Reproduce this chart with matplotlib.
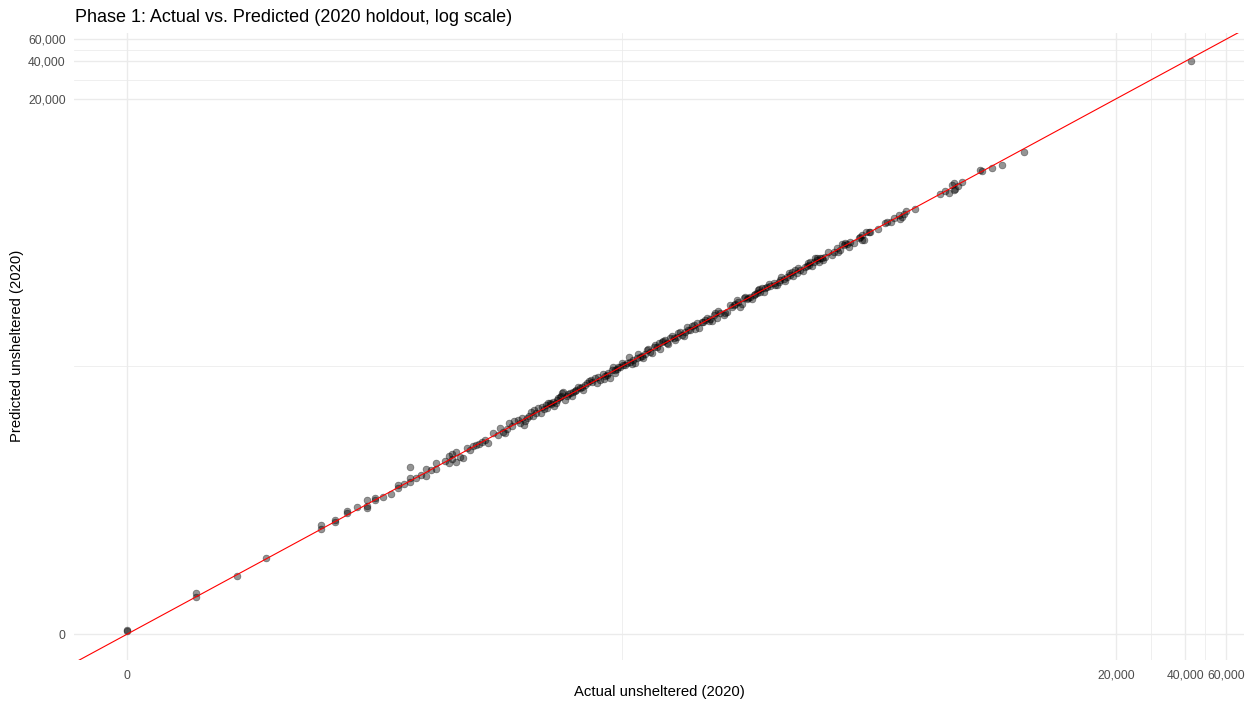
import numpy as np
import matplotlib
matplotlib.use("Agg")
import matplotlib.pyplot as plt
from matplotlib.ticker import FixedLocator, FuncFormatter

plt.rcParams["font.family"] = ["Liberation Sans", "DejaVu Sans"]

# Actual vs. predicted unsheltered counts for the 2020 holdout
actual = [
    0, 0, 1, 1, 2, 3, 6, 6, 7, 7, 8, 8, 9, 10, 10, 10,
    11, 11, 12, 13, 14, 14, 15, 16, 16, 16, 17, 18, 19, 19, 20, 21, 21, 23, 24, 24,
    25, 25, 26, 26, 27, 28, 29, 30, 31, 32, 33, 34, 35, 36, 40, 41, 42, 44, 45, 46,
    49, 50, 52, 54, 55,
    56, 58, 57, 60, 63, 65, 66, 68, 70, 73, 74, 75, 77, 78, 81, 83, 86, 89, 92, 94,
    99, 101, 104, 107, 111, 113, 121, 123, 125, 127, 129, 132, 134, 138, 143, 148,
    151, 153, 158, 161, 164, 169, 178, 181, 187, 194, 197, 204, 211, 218, 221, 229,
    245, 249, 258, 266, 271, 280, 290, 300, 305,
    59, 64, 69, 72, 82, 88, 97, 119, 136, 146, 172, 200, 237, 275,
    315, 326, 337, 354, 360, 366, 392, 405, 426, 433, 448, 455, 463, 479, 495, 512,
    529, 547, 556, 566, 575, 605, 626, 647, 658, 680, 691, 739, 764, 777, 804, 817,
    845, 888, 919, 934, 966, 982, 999, 1016, 1033, 1086, 1161, 1180, 1221, 1262,
    1305, 1327, 1372, 1395, 1517, 1568, 1595, 1676,
    320, 343, 379, 440, 503, 538, 595, 715, 903, 1050, 1349, 1542, 1573, 1637,
    1704, 1981, 2014, 2153, 2264, 2302, 2341, 2380, 2675, 3437, 3735, 3863, 3928,
    3930, 3994, 4270, 5131, 5217, 5767, 6375, 7921,
    42300,
    38, 43, 47, 51, 53, 62, 67, 71, 76, 79, 85, 90, 95,
    103, 109, 116, 118, 131, 141, 156, 166, 175, 184, 191, 207, 214, 225, 233, 241,
    253, 262, 285, 295,
    330, 348, 372, 398, 418, 470, 488, 520, 560, 585, 615, 668, 700, 725, 752, 790,
    830, 870, 910, 950, 1000, 1060, 1120, 1240, 1290, 1450,
    1850, 2100, 2450, 3600, 4100,
]
predicted = [
    0.08, 0.05, 1.13, 0.98, 1.93, 3.12, 6.5, 6.0, 7.3, 7.0, 8.8, 8.4, 9.45, 11.0, 9.7, 9.3,
    11.5, 10.9, 11.6, 12.3, 14.0, 14.8, 15.0, 21.0, 16.9, 15.7, 17.0, 18.0, 20.2, 17.8,
    20.0, 22.6, 20.1, 23.4, 22.6, 25.8, 27.0, 24.5, 27.8, 23.3, 25.4, 25.0, 30.1, 29.1,
    31.5, 32.0, 33.0, 34.0, 35.0, 33.2, 39.0, 44.4, 41.3, 43.7, 48.4, 46.0, 51.8, 48.4,
    47.0, 54.0, 56.0,
    60.2, 62.1, 55.5, 64.1, 66.2, 68.3, 64.2, 70.6, 72.6, 75.0, 77.4, 78.8, 85.0, 87.6,
    80.8, 85.0, 87.7, 90.5, 93.2, 95.6, 102.6, 107.8, 105.8, 112.4, 116.0, 109.1, 120.0,
    125.0, 112.6, 131.4, 140.0, 132.6, 135.0, 139.4, 144.0, 148.5, 168.6, 153.0, 158.4,
    148.9, 163.7, 169.0, 178.5, 191.0, 185.0, 203.0, 209.5, 216.0, 222.7, 230.0, 219.0,
    237.0, 245.0, 260.0, 253.0, 267.0, 294.6, 277.0, 304.0, 313.0, 285.3,
    59.3, 62.9, 69.2, 70.5, 83.6, 88.9, 99.4, 118.0, 138.6, 144.8, 171.2, 202.9, 237.0, 276.0,
    323, 334, 327.7, 366, 377, 343.8, 365.6, 389, 426, 441, 483, 463, 427, 499, 488, 512,
    529, 547, 581, 565, 600, 619, 628, 659, 638, 680, 701, 743, 766, 817, 843, 792,
    844, 893, 922, 984, 985, 1046, 1017, 985, 1060, 1080, 1112, 1182, 1260, 1219,
    1340, 1383, 1298, 1425, 1517, 1612, 1470, 1714,
    319.8, 341, 378, 446, 503, 538, 607, 719, 907, 1055, 1352, 1556, 1469, 1701,
    1710, 2026, 2065, 2194, 2333, 2153, 2264, 2393, 2593, 3437, 3527, 4068, 4247,
    3709, 3751, 4327, 5363, 5217, 5537, 5885, 7534,
    40200,
    40.5, 40.0, 50.5, 53.8, 50.2, 58.5, 71.5, 67.0, 80.2, 75.1, 81.0, 95.5, 90.1,
    109, 103.5, 122, 111.8, 124, 149, 148, 176, 166, 194, 181, 196, 226, 213, 246, 229,
    267, 249, 300, 280,
    348, 330, 392, 378, 440, 447, 514, 494, 590, 556, 648, 635, 737, 690, 792, 752,
    874, 828, 958, 904, 1053, 1010, 1178, 1180, 1357, 1380,
    1790, 2050, 2520, 3650, 4000,
]
breaks = [0, 20000, 40000, 60000]
break_labels = ["0", "20,000", "40,000", "60,000"]

title = "Phase 1: Actual vs. Predicted (2020 holdout, log scale)"
x_title = "Actual unsheltered (2020)"
y_title = "Predicted unsheltered (2020)"


def fwd(v):
    v = np.asarray(v, dtype=float)
    return np.log10(np.clip(1.0 + v, 1e-12, None))


def inv(t):
    return 10.0 ** np.asarray(t, dtype=float) - 1.0


W, H = 1253, 704
fig = plt.figure(figsize=(W / 100, H / 100), dpi=100)
fig.patch.set_facecolor("white")

left, right, top, bottom = 74, 1244, 32.6, 660
ax = fig.add_axes([left / W, 1 - bottom / H, (right - left) / W, (bottom - top) / H])
ax.set_xscale("function", functions=(fwd, inv))
ax.set_yscale("function", functions=(fwd, inv))

ax.scatter(actual, predicted, s=24, facecolors=(0, 0, 0, 0.42),
           edgecolors=(0, 0, 0, 0.42), linewidths=0.5, zorder=2)


def expanded(vals):
    t = fwd(vals)
    lo, hi = t.min(), t.max()
    pad = 0.05 * (hi - lo)
    return inv(lo - pad), inv(hi + pad)


xlim = expanded(actual)
ylim = expanded(predicted)

# identity line
lo_all = min(xlim[0], ylim[0])
hi_all = max(xlim[1], ylim[1])
ax.plot([lo_all, hi_all], [lo_all, hi_all], color="red", lw=0.8, zorder=3)
ax.set_xlim(*xlim)
ax.set_ylim(*ylim)

tb = fwd(breaks)
minor = inv((tb[:-1] + tb[1:]) / 2)

fmt = FuncFormatter(lambda v, p: break_labels[int(np.argmin(np.abs(np.array(breaks) - v)))])
for axis in (ax.xaxis, ax.yaxis):
    axis.set_major_locator(FixedLocator(breaks))
    axis.set_minor_locator(FixedLocator(minor))
    axis.set_major_formatter(fmt)
    axis.set_minor_formatter(FuncFormatter(lambda v, p: ""))

ax.grid(True, which="major", color="#EBEBEB", lw=1.0, zorder=0)
ax.grid(True, which="minor", color="#EBEBEB", lw=0.55, zorder=0)
ax.set_axisbelow(True)
for s in ax.spines.values():
    s.set_visible(False)
ax.tick_params(which="both", length=0)
ax.tick_params(axis="x", pad=7, labelsize=8.7, labelcolor="#4D4D4D")
ax.tick_params(axis="y", pad=6, labelsize=8.7, labelcolor="#4D4D4D")

fig.text(75 / W, 1 - 17 / H, title, fontsize=13, ha="left", va="center", color="black")
fig.text((left + right) / 2 / W, 1 - 692 / H, x_title, fontsize=10.7, ha="center",
         va="center", color="black")
fig.text(17 / W, 1 - (top + bottom) / 2 / H, y_title, fontsize=10.7, ha="center",
         va="center", rotation=90, color="black")

fig.savefig("out.png", dpi=100, facecolor="white")
